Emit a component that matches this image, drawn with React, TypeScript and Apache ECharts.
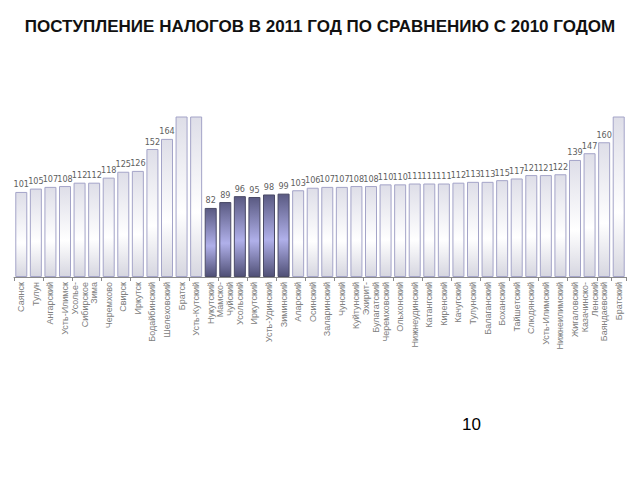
import React, { useEffect, useRef } from "react";
import * as echarts from "echarts";

const titleText = "ПОСТУПЛЕНИЕ НАЛОГОВ В 2011 ГОД ПО СРАВНЕНИЮ С 2010 ГОДОМ";
const pageNumber = "10";

const categories = [
  "Саянск", "Тулун", "Ангарский", "Усть-Илимск", "Усолье-\nСибирское", "Зима",
  "Черемхово", "Свирск", "Иркутск", "Бодайбинский", "Шелеховский", "Братск",
  "Усть-Кутский", "Нукутский", "Мамско-\nЧуйский", "Усольский", "Иркутский",
  "Усть-Удинский", "Зиминский", "Аларский", "Осинский", "Заларинский", "Чунский",
  "Куйтунский", "Эхирит-\nБулагатский", "Черемховский", "Ольхонский",
  "Нижнеудинский", "Катангский", "Киренский", "Качугский", "Тулунский",
  "Балаганский", "Боханский", "Тайшетский", "Слюдянский", "Усть-Илимский",
  "Нижнеилимский", "Жигаловский", "Казачинско-\nЛенский", "Баяндаевский", "Братский",
];

const values = [
  101, 105, 107, 108, 112, 112, 118, 125, 126, 152, 164, 230, 250,
  82, 89, 96, 95, 98, 99,
  103, 106, 107, 107, 108, 108, 110, 110, 111, 111, 111, 112, 113, 113, 115, 117,
  121, 121, 122, 139, 147, 160, 220,
];

// indices of highlighted (below 100%) bars
const highlighted = [13, 14, 15, 16, 17, 18];
const yMax = 190;

export default function App() {
  const ref = useRef<HTMLDivElement>(null);
  useEffect(() => {
    if (!ref.current) return;
    const chart = echarts.init(ref.current, undefined, { renderer: "svg" });
    const lightFill = new echarts.graphic.LinearGradient(0, 0, 0, 1, [
      { offset: 0, color: "#dedee8" },
      { offset: 0.6, color: "#ffffff" },
      { offset: 1, color: "#d6d6e0" },
    ]);
    const darkFill = new echarts.graphic.LinearGradient(0, 0, 0, 1, [
      { offset: 0, color: "#5a5a82" },
      { offset: 0.55, color: "#b0b0ea" },
      { offset: 1, color: "#505076" },
    ]);
    const data = values.map((v, i) => {
      const dark = highlighted.includes(i);
      return {
        value: v,
        itemStyle: {
          color: dark ? darkFill : lightFill,
          borderColor: dark ? "#4a4a66" : "#a4a4c8",
          borderWidth: 1,
        },
        label: { show: v <= yMax },
      };
    });
    chart.setOption({
      animation: false,
      title: {
        text: titleText,
        left: "center",
        top: 13,
        textStyle: {
          fontFamily: "Liberation Sans, Arial, sans-serif",
          fontWeight: "bold",
          fontSize: 17,
          color: "#111",
        },
      },
      graphic: [
        {
          type: "text",
          left: 462,
          top: 416,
          style: {
            text: pageNumber,
            font: "17px 'Liberation Sans', Arial, sans-serif",
            fill: "#000",
          },
        },
      ],
      grid: { left: 14, right: 14, top: 117, bottom: 203, containLabel: false },
      xAxis: {
        type: "category",
        data: categories,
        axisLine: { lineStyle: { color: "#8a8a8a" } },
        axisTick: { show: true, interval: 1, length: 4, lineStyle: { color: "#8a8a8a" } },
        axisLabel: {
          rotate: 90,
          interval: 0,
          fontSize: 9,
          lineHeight: 10,
          color: "#808080",
          margin: 5,
          fontFamily: "Liberation Sans, Arial, sans-serif",
        },
      },
      yAxis: {
        type: "value",
        min: 0,
        max: yMax,
        show: false,
        splitLine: { show: false },
      },
      series: [
        {
          type: "bar",
          data,
          barWidth: 12,
          clip: true,
          label: {
            show: true,
            position: "top",
            distance: 3,
            fontSize: 9,
            color: "#606060",
            fontFamily: "DejaVu Sans Condensed, Liberation Sans Narrow, sans-serif",
          },
        },
      ],
    });
    return () => chart.dispose();
  }, []);
  return (
    <div
      ref={ref}
      style={{ position: "fixed", left: 0, top: 0, width: 640, height: 480, background: "#fff" }}
    />
  );
}
